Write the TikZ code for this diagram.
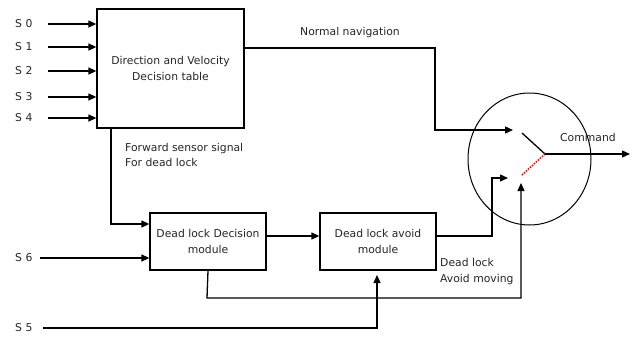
\documentclass[tikz,border=0pt]{standalone}
\usepackage{fontspec}
\setmainfont{DejaVu Sans}
\usetikzlibrary{arrows.meta,shapes.geometric}
\begin{document}
\begin{tikzpicture}[x=1pt,y=-1pt,
  every node/.style={font=\fontsize{10.8}{15.5}\selectfont, text=black!85},
  blk/.style={draw, line width=1.3pt, inner sep=0pt, align=center},
  arr/.style={line width=1.3pt, -{Triangle[length=8pt,width=7pt]}},
  ln/.style={line width=1.3pt},
  lbl/.style={anchor=west, inner sep=0pt, align=left}]
\useasboundingbox (0,0) rectangle (635,338);
% blocks
\node[blk, minimum width=147pt, minimum height=119pt] (main) at (170.5,68.5) {Direction and Velocity\\Decision table};
\node[blk, minimum width=116pt, minimum height=57pt] (dec) at (208,241.5) {Dead lock Decision\\module};
\node[blk, minimum width=116pt, minimum height=57pt] (avo) at (378,241.5) {Dead lock avoid\\module};
\node[draw, ellipse, line width=1pt, minimum width=123pt, minimum height=132pt, inner sep=0pt] (sw) at (529.5,159) {};
% sensor labels
\node[lbl] (s0) at (15,24) {S\,\,0};
\node[lbl] (s1) at (15,47) {S\,\,1};
\node[lbl] (s2) at (15,71) {S\,\,2};
\node[lbl] (s3) at (15,97) {S\,\,3};
\node[lbl] (s4) at (15,118) {S\,\,4};
\node[lbl] (s6) at (15,258) {S\,\,6};
\node[lbl] (s5) at (15,328) {S\,\,5};
% coordinates
\coordinate (a0) at (48,24);
\coordinate (a1) at (48,47);
\coordinate (a2) at (48,71);
\coordinate (a3) at (48,97);
\coordinate (a4) at (48,118);
\coordinate (a6) at (40,258);
\coordinate (a5) at (43,328);
\coordinate (pivot) at (545,154);
\coordinate (c1) at (522,133);
\coordinate (c2) at (522,175);
\coordinate (t1) at (513,130);
\coordinate (t2) at (508,178);
\coordinate (t3) at (521,183);
\coordinate (cmd) at (630,154);
% inputs
\draw[arr] (a0) -- (a0 -| main.west);
\draw[arr] (a1) -- (a1 -| main.west);
\draw[arr] (a2) -- (a2 -| main.west);
\draw[arr] (a3) -- (a3 -| main.west);
\draw[arr] (a4) -- (a4 -| main.west);
\draw[arr] (a6) -- (a6 -| dec.west);
% normal navigation
\draw[arr] (main.east |- 0,48) -- (435,48) |- (t1);
\node[lbl] (nn) at (300,33) {Normal navigation};
% forward sensor
\draw[arr] (111,128) |- (dec.west |- 0,224);
\node[lbl] (fs) at (125,155) {Forward sensor signal\\For dead lock};
% decision -> avoid
\draw[arr] (dec.east |- 0,236) -- (avo.west |- 0,236);
% avoid -> switch
\draw[arr] (avo.east |- 0,236) -- (492,236) |- (t2);
% decision bottom -> switch
\draw[arr] (dec.south) -- (207,298) -| (t3);
% S5 -> avoid
\draw[arr] (a5) -| (377,275);
\node[lbl] (dl) at (440,271.5) {Dead lock\\Avoid moving};
% switch
\draw[ln] (pivot) -- (c1);
\draw[red, line width=1.6pt, dash pattern=on 1.5pt off 1.2pt] (pivot) -- (c2);
\draw[arr] (pivot) -- (cmd);
\node[lbl] (cm) at (560,137) {Command};
\end{tikzpicture}
\end{document}
